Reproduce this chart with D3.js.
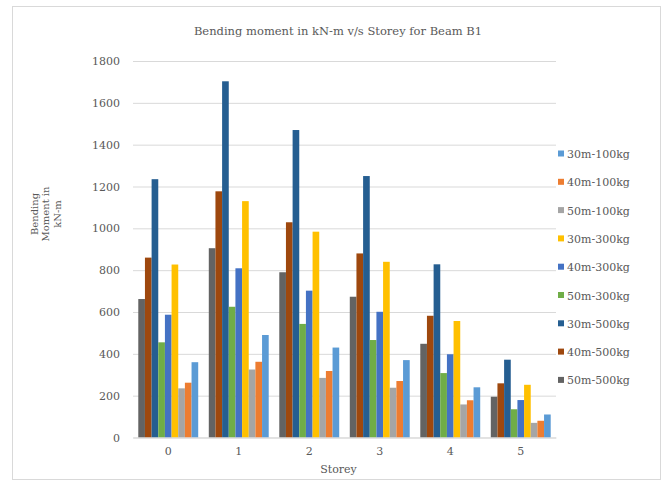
<!DOCTYPE html>
<html>
<head>
<meta charset="utf-8">
<script src="https://cdn.jsdelivr.net/npm/d3@7"></script>
<style>
  html, body { margin: 0; padding: 0; background: #fff; }
  svg { display: block; }
  text { font-family: "DejaVu Serif", serif; }
</style>
</head>
<body>
<svg id="chart" width="672" height="486"></svg>
<script>
// Bending moment (kN-m) per storey for Beam B1
const storeys = ["0", "1", "2", "3", "4", "5"];

const seriesNames = [
  "30m-100kg", "40m-100kg", "50m-100kg",
  "30m-300kg", "40m-300kg", "50m-300kg",
  "30m-500kg", "40m-500kg", "50m-500kg"
];

const m30_100 = [360, 490, 430, 370, 240, 110];
const m40_100 = [262, 362, 318, 270, 178, 80];
const m50_100 = [235, 325, 285, 238, 158, 70];
const m30_300 = [827, 1130, 984, 840, 557, 252];
const m40_300 = [587, 809, 702, 601, 398, 179];
const m50_300 = [455, 625, 543, 466, 308, 135];
const m30_500 = [1235, 1703, 1470, 1250, 828, 372];
const m40_500 = [860, 1177, 1029, 880, 582, 259];
const m50_500 = [662, 905, 790, 673, 448, 195];

const yTicks = [0, 200, 400, 600, 800, 1000, 1200, 1400, 1600, 1800];

const seriesValues = [m30_100, m40_100, m50_100, m30_300, m40_300, m50_300, m30_500, m40_500, m50_500];
const seriesColors = ["#5B9BD5", "#ED7D31", "#A5A5A5", "#FFC000", "#4472C4", "#70AD47", "#255E91", "#9E480E", "#636363"];

const series = seriesNames.map((name, i) => ({ name, values: seriesValues[i], color: seriesColors[i] }));
// bars within a storey are drawn in reverse legend order
const barOrder = series.slice().reverse();

const svg = d3.select("#chart");

// chart frame
svg.append("rect")
  .attr("x", 12.5).attr("y", 6.5).attr("width", 648).attr("height", 473)
  .attr("fill", "#fff").attr("stroke", "#d9d9d9").attr("stroke-width", 1);

const plot = { left: 133, right: 556, top: 61, bottom: 437.5 };

const x = d3.scaleBand().domain(storeys).range([plot.left, plot.right])
  .paddingInner(0.15).paddingOuter(0.075);
const xInner = d3.scaleBand().domain(barOrder.map(s => s.name)).range([0, x.bandwidth()]);
const y = d3.scaleLinear().domain([0, 1800]).range([plot.bottom, plot.top]);

// gridlines + y labels
const yAxis = d3.axisLeft(y).tickValues(yTicks).tickFormat(d3.format("d"))
  .tickSize(-(plot.right - plot.left)).tickPadding(13);
const gy = svg.append("g").attr("transform", `translate(${plot.left},0)`).call(yAxis);
gy.select(".domain").remove();
gy.selectAll(".tick line").attr("stroke", "#d9d9d9").attr("stroke-width", 1);
gy.selectAll(".tick text").attr("fill", "#595959").style("font-size", "11px")
  .style("font-family", "'DejaVu Serif', serif");

// bars
const groups = svg.append("g").selectAll("g")
  .data(storeys)
  .join("g")
  .attr("transform", d => `translate(${x(d)},0)`);

groups.selectAll("rect")
  .data((d, i) => barOrder.map(s => ({ name: s.name, color: s.color, v: s.values[i] })))
  .join("rect")
  .attr("x", d => xInner(d.name))
  .attr("width", xInner.bandwidth())
  .attr("y", d => y(d.v))
  .attr("height", d => y(0) - y(d.v))
  .attr("fill", d => d.color);

// x axis
const xAxis = d3.axisBottom(x).tickSize(0).tickPadding(10);
const gx = svg.append("g").attr("transform", `translate(0,${plot.bottom})`).call(xAxis);
gx.select(".domain").attr("stroke", "#d9d9d9");
gx.selectAll(".tick text").attr("fill", "#595959").style("font-size", "11px")
  .style("font-family", "'DejaVu Serif', serif");

// axis titles
svg.append("text")
  .attr("x", (plot.left + plot.right) / 2 - 6).attr("y", 473)
  .attr("text-anchor", "middle").attr("fill", "#595959").style("font-size", "11px")
  .text("Storey");

const yTitle = svg.append("text")
  .attr("transform", "translate(46,214) rotate(-90)")
  .attr("text-anchor", "middle").attr("fill", "#595959").style("font-size", "10px");
["Bending", "Moment in", "kN-m"].forEach((line, i) => {
  yTitle.append("tspan").attr("x", 0).attr("dy", i === 0 ? "-0.85em" : "1.15em").text(line);
});

// title
svg.append("text")
  .attr("x", 338).attr("y", 35)
  .attr("text-anchor", "middle").attr("fill", "#595959").style("font-size", "11.5px")
  .text("Bending moment in kN-m v/s  Storey for Beam B1");

// legend
const legend = svg.append("g").selectAll("g")
  .data(series)
  .join("g")
  .attr("transform", (d, i) => `translate(558,${154 + i * 28.3})`);
legend.append("rect")
  .attr("x", 0).attr("y", -3.5).attr("width", 6).attr("height", 6)
  .attr("fill", d => d.color);
legend.append("text")
  .attr("x", 9).attr("y", 4)
  .attr("fill", "#595959").style("font-size", "11px")
  .text(d => d.name);
</script>
</body>
</html>
